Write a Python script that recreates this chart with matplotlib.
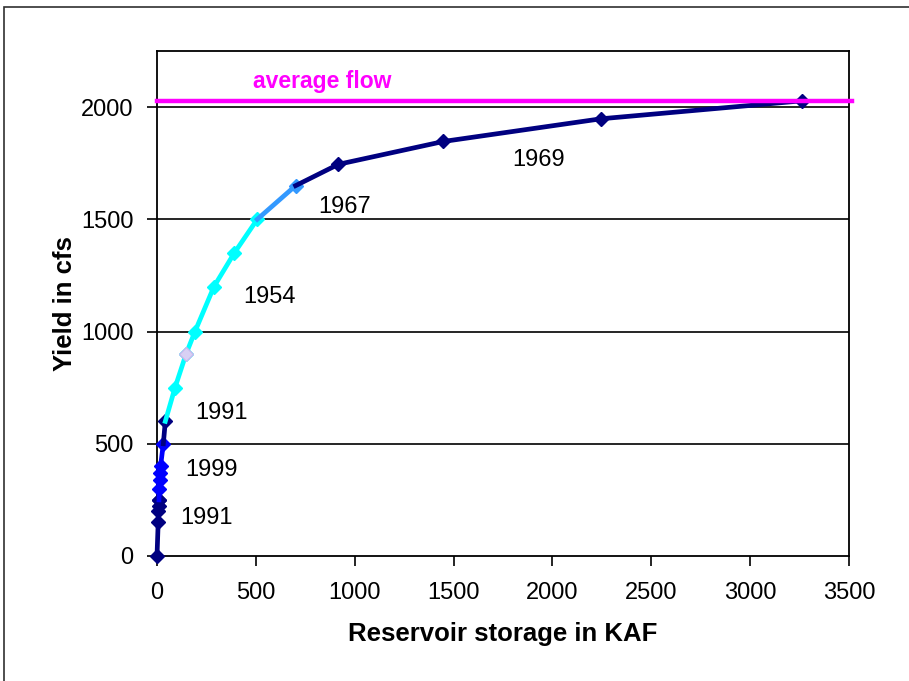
import numpy as np
import matplotlib
matplotlib.use("Agg")
import matplotlib.pyplot as plt
from matplotlib.patches import Rectangle

plt.rcParams['font.family'] = ['Liberation Sans', 'DejaVu Sans']

# storage (KAF) / yield (cfs), one list per coloured piece
navy1_x = [0, 6, 7, 8, 9, 10]
navy1_y = [0, 150, 200, 225, 250, 250]
blue_x = [10, 12, 14, 15, 18, 32]
blue_y = [250, 300, 340, 370, 400, 500]
navy2_x = [32, 42]
navy2_y = [500, 600]
cyan_x = [42, 91, 147, 192, 288, 391, 507]
cyan_y = [600, 750, 900, 1000, 1200, 1350, 1500]
light_x = [507, 701]
light_y = [1500, 1650]
navy3_x = [701, 917, 1449, 2246, 3262]
navy3_y = [1650, 1745, 1847, 1948, 2028]

odd_x = [147]
odd_y = [900]

avg_flow = 2028

labels = ['1991', '1999', '1991', '1954', '1967', '1969']
label_x = [116, 142, 192, 435, 814, 1796]
label_y = [169, 383, 637, 1154, 1555, 1764]

fig = plt.figure(figsize=(9.09, 6.81), dpi=100)
ax = fig.add_axes([157/909, 1-556/681, (849-157)/909, (556-51)/681])

# outer chart frame (cut off at right and bottom like the screenshot)
fig.patches.append(Rectangle((4/909, -0.1), 1.2, 1 - 7/681 + 0.1,
                             transform=fig.transFigure, fill=False,
                             edgecolor='#303030', linewidth=1.2))

for yv in [500, 1000, 1500, 2000]:
    ax.axhline(yv, color='black', linewidth=1.2, zorder=1)

series = [(navy1_x, navy1_y, '#000080', None),
          (blue_x, blue_y, '#0000FF', slice(1, None)),
          (navy2_x, navy2_y, '#000080', slice(1, None)),
          (cyan_x, cyan_y, '#00FFFF', slice(1, None)),
          (light_x, light_y, '#3399FF', slice(1, None)),
          (navy3_x, navy3_y, '#000080', slice(1, None))]
for xs, ys, c, me in series:
    ax.plot(xs, ys, color=c, linewidth=3.4, marker='D', markersize=7.5,
            markevery=me, markerfacecolor=c, markeredgecolor=c,
            zorder=3, clip_on=False)

ax.plot(odd_x, odd_y, linestyle='none', marker='D', markersize=7.5,
        markerfacecolor='#D8D0F4', markeredgecolor='#C4B8EC', zorder=4)

ax.axhline(avg_flow, xmax=1.005, color='#FF00FF', linewidth=3.2,
           zorder=5, clip_on=False)
ax.text(486, 2113, 'average flow', color='#FF00FF', fontsize=16.5,
        fontweight='bold', ha='left', va='center')

for t, xv, yv in zip(labels, label_x, label_y):
    ax.text(xv, yv, t, fontsize=17, ha='left', va='center')

ax.set_xlim(0, 3500)
ax.set_ylim(0, 2250)
ax.set_xticks(np.arange(0, 3501, 500))
ax.set_yticks(np.arange(0, 2001, 500))
ax.tick_params(axis='both', direction='out', length=7, width=1.2,
               labelsize=17)
ax.tick_params(axis='x', pad=12)
ax.tick_params(axis='y', pad=10)
for s in ax.spines.values():
    s.set_linewidth(1.3)
    s.set_color('black')

ax.set_xlabel('Reservoir storage in KAF', fontsize=18.5, fontweight='bold',
              labelpad=13)
ax.set_ylabel('Yield in cfs', fontsize=18.5, fontweight='bold', labelpad=3)

fig.savefig('out.png', dpi=100)
